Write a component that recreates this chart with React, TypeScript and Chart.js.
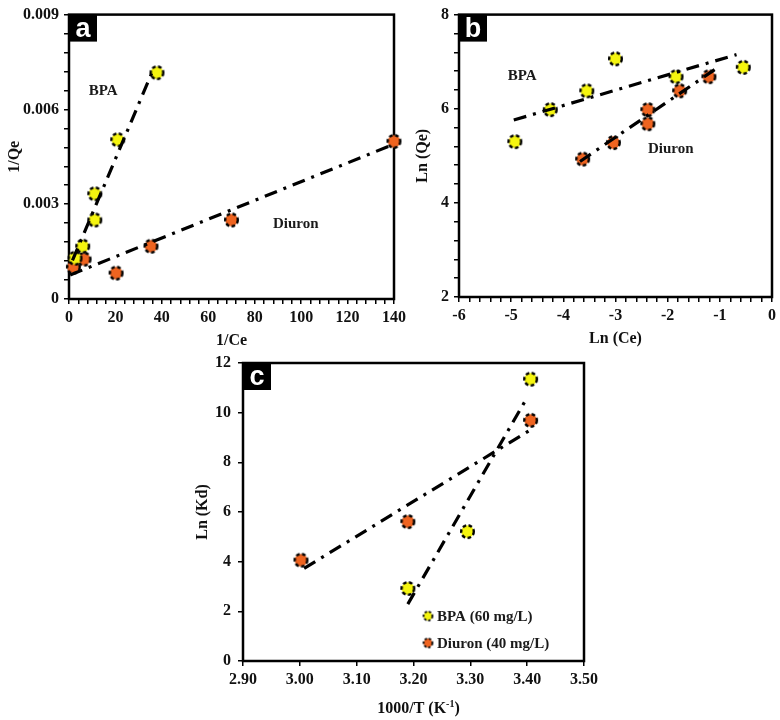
import React, { useEffect, useRef } from 'react';
import { Chart, registerables } from 'chart.js';

Chart.register(...registerables);

// ---------- Panel a : 1/Qe vs 1/Ce ----------
const aBpaX = [2.6, 5.9, 11.1, 11.1, 21.0, 37.9];
const aBpaY = [0.00129, 0.00167, 0.0025, 0.00333, 0.00504, 0.00716];
const aDiuronX = [1.9, 6.5, 20.3, 35.3, 70.0, 140.0];
const aDiuronY = [0.00101, 0.00126, 0.00082, 0.00167, 0.0025, 0.00499];
const aBpaFitX = [1.5, 36.0];
const aBpaFitY = [0.00122, 0.00721];
const aDiuronFitX = [0.5, 140.0];
const aDiuronFitY = [0.00076, 0.0049];

// ---------- Panel b : Ln(Qe) vs Ln(Ce) ----------
const bBpaX = [-4.93, -4.25, -3.55, -3.0, -1.84, -0.55];
const bBpaY = [5.3, 5.98, 6.38, 7.06, 6.68, 6.88];
const bDiuronX = [-3.63, -3.04, -2.38, -2.38, -1.77, -1.21];
const bDiuronY = [4.93, 5.28, 5.98, 5.68, 6.38, 6.68];
const bBpaFitX = [-4.95, -0.68];
const bBpaFitY = [5.76, 7.15];
const bDiuronFitX = [-3.68, -1.1];
const bDiuronFitY = [4.88, 6.83];

// ---------- Panel c : Ln(Kd) vs 1000/T ----------
const cBpaX = [3.19, 3.295, 3.406];
const cBpaY = [2.92, 5.21, 11.35];
const cDiuronX = [3.002, 3.19, 3.406];
const cDiuronY = [4.06, 5.61, 9.69];
const cBpaFitX = [3.19, 3.397];
const cBpaFitY = [2.29, 10.49];
const cDiuronFitX = [3.0076, 3.406];
const cDiuronFitY = [3.73, 9.31];

const SERIES = ['BPA', 'Diuron'];
const LEGEND_LABELS = ['BPA (60 mg/L)', 'Diuron (40 mg/L)'];

const YELLOW = '#F5F50F';
const ORANGE = '#EF6420';
const SERIF = '"Liberation Serif", "Times New Roman", serif';

function makeMarker(fill: string, r: number, lw: number, dash: number[]) {
  const c = document.createElement('canvas');
  const size = Math.ceil(2 * r + lw + 2);
  c.width = size;
  c.height = size;
  const ctx = c.getContext('2d')!;
  ctx.beginPath();
  ctx.arc(size / 2, size / 2, r, 0, Math.PI * 2);
  ctx.fillStyle = fill;
  ctx.fill();
  ctx.setLineDash(dash);
  ctx.lineWidth = lw;
  ctx.strokeStyle = '#000';
  ctx.stroke();
  return c;
}

type AxisSpec = {
  min: number;
  max: number;
  step: number;
  every: number;
  fmt: (v: number) => string;
  size: number;
  title: string;
  titlePad: number;
  tickPad: number;
};

type PanelSpec = {
  width: number;
  height: number;
  bpa: [number[], number[]];
  diuron: [number[], number[]];
  bpaFit: [number[], number[]];
  diuronFit: [number[], number[]];
  x: AxisSpec;
  y: AxisSpec;
  padding: { top: number; right: number; left: number; bottom: number };
  letter: string;
  notes: { text: string; x: number; y: number }[];
  legend?: { x: number; y: number; tx: number; fill: string; text: string }[];
  customXTitle?: { baseline: number };
};

const pts = (xs: number[], ys: number[]) => xs.map((x, i) => ({ x, y: ys[i] }));

function axis(a: AxisSpec, horizontal: boolean, showTitle: boolean) {
  return {
    type: 'linear',
    min: a.min,
    max: a.max,
    ticks: {
      stepSize: a.step,
      autoSkip: false,
      maxRotation: 0,
      padding: a.tickPad,
      color: '#111',
      font: { family: SERIF, size: 16, weight: 'bold' },
      callback: (v: any, i: number) => (i % a.every === 0 ? a.fmt(Number(v)) : ''),
    },
    grid: {
      drawOnChartArea: false,
      drawTicks: true,
      tickLength: 5,
      color: '#000',
      lineWidth: 1.5,
    },
    border: { display: false },
    title: {
      display: showTitle,
      text: a.title,
      color: '#111',
      font: { family: SERIF, size: 16, weight: 'bold' },
      padding: horizontal ? { top: 0, bottom: a.titlePad } : { top: a.titlePad, bottom: 0 },
    },
    afterFit: (s: any) => {
      if (horizontal) s.height = a.size;
      else s.width = a.size;
    },
  };
}

function buildConfig(p: PanelSpec): any {
  const bigY = makeMarker(YELLOW, 6.3, 2.4, [3.6, 2.4]);
  const bigO = makeMarker(ORANGE, 6.3, 2.4, [3.6, 2.4]);
  const lineDs = (d: [number[], number[]]) => ({
    data: pts(d[0], d[1]),
    showLine: true,
    borderColor: '#000',
    borderWidth: 3.2,
    borderDash: [13, 7, 3, 7],
    pointRadius: 0,
    fill: false,
    clip: false,
    order: 0,
  });
  const pointDs = (label: string, d: [number[], number[]], img: HTMLCanvasElement) => ({
    label,
    data: pts(d[0], d[1]),
    showLine: false,
    pointStyle: img,
    pointRadius: 7,
    pointHoverRadius: 7,
    clip: false,
    order: 1,
  });

  const overlay = {
    id: 'overlay',
    beforeDatasetsDraw(chart: any) {
      const { ctx, chartArea: a } = chart;
      ctx.save();
      ctx.lineWidth = 2.5;
      ctx.strokeStyle = '#000';
      ctx.strokeRect(a.left, a.top, a.right - a.left, a.bottom - a.top);
      ctx.restore();
    },
    afterDatasetsDraw(chart: any) {
      const { ctx, chartArea: a, scales } = chart;
      const sx = scales.x;
      const sy = scales.y;
      ctx.save();
      // panel letter box
      ctx.fillStyle = '#000';
      ctx.fillRect(a.left, a.top, 28, 27);
      ctx.fillStyle = '#fff';
      ctx.font = 'bold 27px "Liberation Sans", Arial, sans-serif';
      ctx.textAlign = 'center';
      ctx.textBaseline = 'alphabetic';
      ctx.fillText(p.letter, a.left + 14, a.top + 22);
      // series notes
      ctx.fillStyle = '#1a1a1a';
      ctx.font = `bold 15px ${SERIF}`;
      ctx.textBaseline = 'middle';
      ctx.textAlign = 'center';
      for (const n of p.notes) {
        ctx.fillText(n.text, sx.getPixelForValue(n.x), sy.getPixelForValue(n.y));
      }
      // legend
      if (p.legend) {
        ctx.textAlign = 'left';
        for (const l of p.legend) {
          const img = makeMarker(l.fill, 4.4, 1.8, [2.4, 1.8]);
          const px = sx.getPixelForValue(l.x);
          const py = sy.getPixelForValue(l.y);
          ctx.drawImage(img, px - img.width / 2, py - img.height / 2);
          ctx.fillStyle = '#1a1a1a';
          ctx.fillText(l.text, sx.getPixelForValue(l.tx), py + 1);
        }
      }
      // custom x title with superscript
      if (p.customXTitle) {
        const main1 = '1000/T (K';
        const sup = '-1';
        const main2 = ')';
        const fMain = `bold 16px ${SERIF}`;
        const fSup = `bold 10px ${SERIF}`;
        ctx.font = fMain;
        const w1 = ctx.measureText(main1).width;
        const w3 = ctx.measureText(main2).width;
        ctx.font = fSup;
        const w2 = ctx.measureText(sup).width;
        const total = w1 + w2 + w3;
        let x0 = (a.left + a.right) / 2 + 5 - total / 2;
        const by = p.customXTitle.baseline;
        ctx.textAlign = 'left';
        ctx.textBaseline = 'alphabetic';
        ctx.fillStyle = '#111';
        ctx.font = fMain;
        ctx.fillText(main1, x0, by);
        x0 += w1;
        ctx.font = fSup;
        ctx.fillText(sup, x0, by - 6);
        x0 += w2;
        ctx.font = fMain;
        ctx.fillText(main2, x0, by);
      }
      ctx.restore();
    },
  };

  return {
    type: 'scatter',
    data: {
      datasets: [
        lineDs(p.bpaFit),
        lineDs(p.diuronFit),
        pointDs(SERIES[0], p.bpa, bigY),
        pointDs(SERIES[1], p.diuron, bigO),
      ],
    },
    options: {
      responsive: false,
      animation: false,
      events: [],
      devicePixelRatio: 1,
      layout: { padding: p.padding },
      plugins: { legend: { display: false }, tooltip: { enabled: false } },
      scales: {
        x: { ...axis(p.x, true, !p.customXTitle), position: 'bottom' },
        y: { ...axis(p.y, false, true), position: 'left' },
      },
    },
    plugins: [overlay],
  };
}

function Panel({ left, top, spec }: { left: number; top: number; spec: PanelSpec }) {
  const ref = useRef<HTMLCanvasElement>(null);
  useEffect(() => {
    const chart = new Chart(ref.current!, buildConfig(spec));
    return () => chart.destroy();
  }, []);
  return (
    <canvas
      ref={ref}
      width={spec.width}
      height={spec.height}
      style={{ position: 'absolute', left, top, width: spec.width, height: spec.height }}
    />
  );
}

const specA: PanelSpec = {
  width: 410,
  height: 350,
  bpa: [aBpaX, aBpaY],
  diuron: [aDiuronX, aDiuronY],
  bpaFit: [aBpaFitX, aBpaFitY],
  diuronFit: [aDiuronFitX, aDiuronFitY],
  x: { min: 0, max: 140, step: 4, every: 5, fmt: (v) => String(Math.round(v)), size: 51, title: '1/Ce', titlePad: 0, tickPad: 4 },
  y: {
    min: 0, max: 0.009, step: 0.0006, every: 5,
    fmt: (v) => (Math.abs(v) < 1e-9 ? '0' : v.toFixed(3)),
    size: 69, title: '1/Qe', titlePad: 5, tickPad: 5,
  },
  padding: { top: 11, right: 16, left: 0, bottom: 0 },
  letter: 'a',
  notes: [
    { text: 'BPA', x: 14.7, y: 0.00659 },
    { text: 'Diuron', x: 97.7, y: 0.002375 },
  ],
};

const specB: PanelSpec = {
  width: 380,
  height: 350,
  bpa: [bBpaX, bBpaY],
  diuron: [bDiuronX, bDiuronY],
  bpaFit: [bBpaFitX, bBpaFitY],
  diuronFit: [bDiuronFitX, bDiuronFitY],
  x: { min: -6, max: 0, step: 0.2, every: 5, fmt: (v) => String(Math.round(v)), size: 53, title: 'Ln (Ce)', titlePad: 2, tickPad: 4 },
  y: { min: 2, max: 8, step: 0.4, every: 5, fmt: (v) => String(Math.round(v)), size: 59, title: 'Ln (Qe)', titlePad: 13, tickPad: 5 },
  padding: { top: 9, right: 3, left: 0, bottom: 0 },
  letter: 'b',
  notes: [
    { text: 'BPA', x: -4.79, y: 6.69 },
    { text: 'Diuron', x: -1.94, y: 5.15 },
  ],
};

const specC: PanelSpec = {
  width: 425,
  height: 375,
  bpa: [cBpaX, cBpaY],
  diuron: [cDiuronX, cDiuronY],
  bpaFit: [cBpaFitX, cBpaFitY],
  diuronFit: [cDiuronFitX, cDiuronFitY],
  x: { min: 2.9, max: 3.5, step: 0.1, every: 1, fmt: (v) => v.toFixed(2), size: 59, title: '1000/T (K-1)', titlePad: 0, tickPad: 4 },
  y: { min: 0, max: 12, step: 2, every: 1, fmt: (v) => String(Math.round(v)), size: 63, title: 'Ln (Kd)', titlePad: 13, tickPad: 7 },
  padding: { top: 18, right: 21, left: 0, bottom: 0 },
  letter: 'c',
  notes: [],
  legend: [
    { x: 3.2255, y: 1.81, tx: 3.2414, fill: YELLOW, text: LEGEND_LABELS[0] },
    { x: 3.2255, y: 0.725, tx: 3.2414, fill: ORANGE, text: LEGEND_LABELS[1] },
  ],
  customXTitle: { baseline: 368 },
};

export default function App() {
  return (
    <div style={{ position: 'absolute', left: 0, top: 0, width: 780, height: 720, background: '#fff' }}>
      <Panel left={0} top={0} spec={specA} />
      <Panel left={400} top={0} spec={specB} />
      <Panel left={180} top={345} spec={specC} />
    </div>
  );
}
